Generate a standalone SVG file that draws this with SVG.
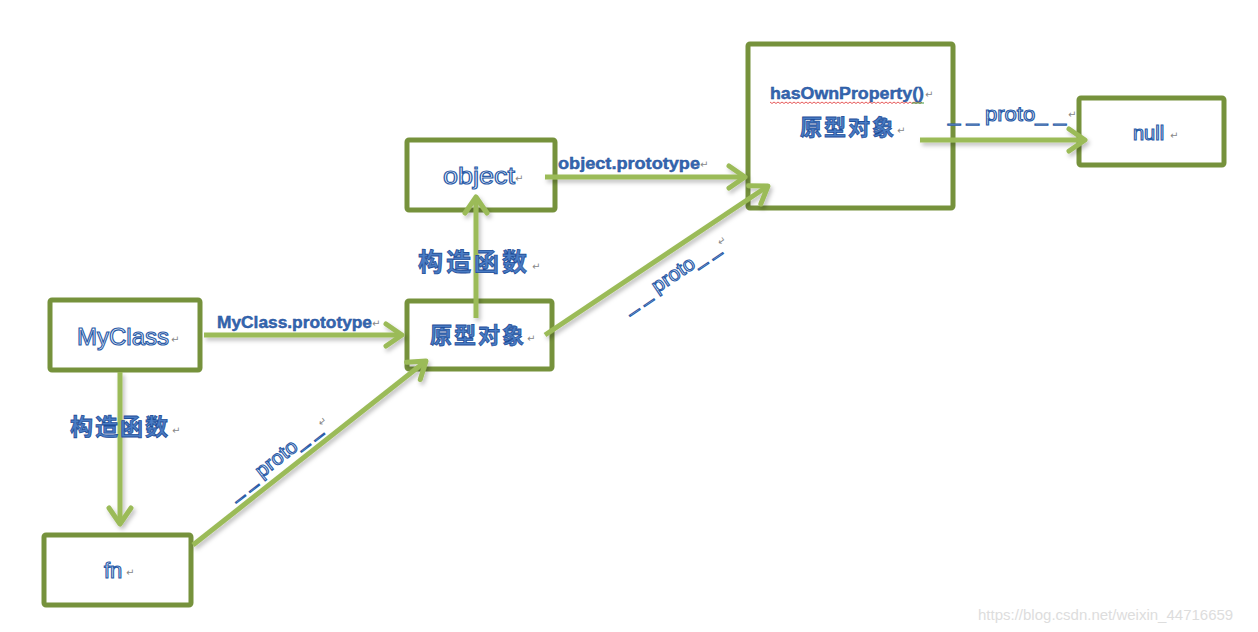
<svg xmlns="http://www.w3.org/2000/svg" width="1258" height="632" viewBox="0 0 1258 632">
<defs>
<style>
.box{fill:#ffffff;stroke:#76923c;stroke-width:5}
.arr{stroke:#9bbb59;stroke-width:5;fill:none;marker-end:url(#ah)}
.big{font-family:"Liberation Sans",Arial,sans-serif;fill:#f6f9ff;stroke:#2a5ca8;stroke-width:1.15}
.lbl{font-family:"Liberation Sans",Arial,sans-serif;font-weight:bold;fill:#3567b0;stroke:#1f4e99;stroke-width:0.4}
.cjk{font-family:"Noto Sans CJK SC","Noto Sans CJK JP",sans-serif;font-weight:bold;fill:#4a7cc4;stroke:#1f4e99;stroke-width:0.8}
.pr{font-family:"Liberation Sans",Arial,sans-serif;fill:#f6f9ff;stroke:#2a5ca8;stroke-width:1.1}
.rm{font-family:"DejaVu Sans",sans-serif;font-size:10px;fill:#888888}
</style>
<marker id="ah" markerUnits="userSpaceOnUse" viewBox="0 0 30 30" refX="24" refY="15" markerWidth="30" markerHeight="30" orient="auto">
<path d="M8 4 L24 15 L8 26" fill="none" stroke="#9bbb59" stroke-width="5" stroke-linecap="round" stroke-linejoin="round"/>
</marker>
<filter id="sh" x="-10%" y="-10%" width="120%" height="130%">
<feDropShadow dx="2" dy="3" stdDeviation="2" flood-color="#000" flood-opacity="0.25"/>
</filter>
</defs>
<rect width="1258" height="632" fill="#ffffff"/>

<g id="MyClass">
<rect class="box" x="50" y="300" width="150" height="70" rx="2"/>
<text class="big" x="77" y="345" font-size="24">MyClass</text>
<text class="rm" x="171" y="343">↵</text>
</g>

<g id="fn">
<rect class="box" x="44" y="535" width="147" height="70" rx="2"/>
<text class="big" x="104" y="578" font-size="22">fn</text>
<text class="rm" x="126" y="576">↵</text>
</g>

<g id="proto-obj">
<rect class="box" x="407" y="301" width="145" height="68" rx="2"/>
<text class="cjk" x="430" y="343" font-size="22" letter-spacing="2">原型对象</text>
<text class="rm" x="527" y="342">↵</text>
</g>

<g id="object">
<rect class="box" x="407" y="140" width="148" height="70" rx="2"/>
<text class="big" x="443" y="184" font-size="24" textLength="72" lengthAdjust="spacingAndGlyphs">object</text>
<text class="rm" x="515" y="182">↵</text>
</g>

<g id="object-proto">
<rect class="box" x="748" y="44" width="205" height="164" rx="2"/>
<text class="lbl" x="770" y="99" font-size="16" textLength="154" lengthAdjust="spacingAndGlyphs">hasOwnProperty()</text>
<path d="M770 102 l2 1.5 l2 -1.5 l2 1.5 l2 -1.5 l2 1.5 l2 -1.5 l2 1.5 l2 -1.5 l2 1.5 l2 -1.5 l2 1.5 l2 -1.5 l2 1.5 l2 -1.5 l2 1.5 l2 -1.5 l2 1.5 l2 -1.5 l2 1.5 l2 -1.5 l2 1.5 l2 -1.5 l2 1.5 l2 -1.5 l2 1.5 l2 -1.5 l2 1.5 l2 -1.5 l2 1.5 l2 -1.5 l2 1.5 l2 -1.5 l2 1.5 l2 -1.5 l2 1.5 l2 -1.5 l2 1.5 l2 -1.5 l2 1.5 l2 -1.5 l2 1.5 l2 -1.5 l2 1.5 l2 -1.5 l2 1.5 l2 -1.5 l2 1.5 l2 -1.5 l2 1.5 l2 -1.5 l2 1.5 l2 -1.5 l2 1.5 l2 -1.5 l2 1.5 l2 -1.5 l2 1.5 l2 -1.5 l2 1.5 l2 -1.5 l2 1.5 l2 -1.5 l2 1.5 l2 -1.5 l2 1.5 l2 -1.5 l2 1.5 l2 -1.5 l2 1.5 l2 -1.5 l2 1.5 l2 -1.5 l2 1.5 l2 -1.5 l2 1.5 l2 -1.5" fill="none" stroke="#e03030" stroke-width="0.8"/>
<line x1="912" y1="103" x2="924" y2="103" stroke="#3a9a3a" stroke-width="1"/>
<text class="rm" x="925" y="98">↵</text>
<text class="cjk" x="800" y="135" font-size="22" letter-spacing="2">原型对象</text>
<text class="rm" x="897" y="134">↵</text>
</g>

<g id="null">
<rect class="box" x="1079" y="98" width="145" height="67" rx="2"/>
<text class="big" x="1133" y="140" font-size="20">null</text>
<text class="rm" x="1170" y="139">↵</text>
</g>

<g id="connectors" filter="url(#sh)">
<line class="arr" x1="204" y1="335" x2="402" y2="335"/>
<line class="arr" x1="120" y1="372" x2="120" y2="524"/>
<line class="arr" x1="193" y1="545" x2="426" y2="361"/>
<line class="arr" x1="476" y1="318" x2="476" y2="197"/>
<line class="arr" x1="545" y1="335" x2="768" y2="186"/>
<line class="arr" x1="545" y1="177" x2="745" y2="177"/>
<line class="arr" x1="920" y1="140" x2="1085" y2="140"/>
</g>

<g id="labels">
<text class="lbl" x="217" y="328" font-size="16" textLength="155" lengthAdjust="spacingAndGlyphs">MyClass.prototype</text>
<text class="rm" x="372" y="327">↵</text>
<text class="lbl" x="558" y="169" font-size="16" textLength="142" lengthAdjust="spacingAndGlyphs">object.prototype</text>
<text class="rm" x="700" y="168">↵</text>
<text class="cjk" x="418" y="271" font-size="25" letter-spacing="3">构造函数</text>
<text class="rm" x="532" y="270">↵</text>
<text class="cjk" x="70" y="435" font-size="23" letter-spacing="2">构造函数</text>
<text class="rm" x="172" y="434">↵</text>
<text class="pr" x="948" y="121" font-size="20" textLength="118" lengthAdjust="spacingAndGlyphs">_ _ proto_ _</text>
<text class="rm" x="1068" y="118">↵</text>
<g transform="translate(234,500) rotate(-38)">
<text class="pr" x="0" y="0" font-size="20" textLength="112" lengthAdjust="spacingAndGlyphs">_ _ proto_ _</text>
<text class="rm" x="114" y="-4">↵</text>
</g>
<g transform="translate(628,313) rotate(-34)">
<text class="pr" x="0" y="0" font-size="20" textLength="112" lengthAdjust="spacingAndGlyphs">_ _ proto_ _</text>
<text class="rm" x="114" y="-4">↵</text>
</g>
</g>

<text x="978" y="620" font-family="Liberation Sans,Arial,sans-serif" font-size="15" fill="#dddddd">https://blog.csdn.net/weixin_44716659</text>
</svg>
